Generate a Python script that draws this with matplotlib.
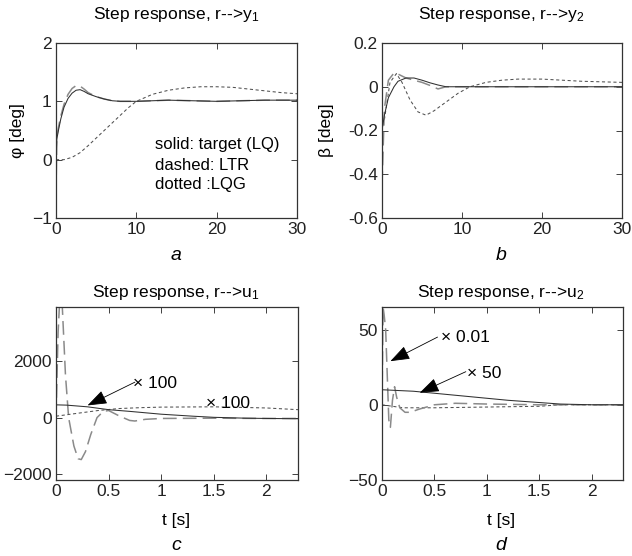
import matplotlib
matplotlib.use('Agg')
import matplotlib.pyplot as plt

plt.rcParams['font.family'] = ['Liberation Sans', 'DejaVu Sans']
plt.rcParams['mathtext.fontset'] = 'custom'
plt.rcParams['mathtext.rm'] = 'Liberation Sans'
plt.rcParams['mathtext.it'] = 'Liberation Sans:italic'
plt.rcParams['font.size'] = 12.5

# --- panel a: r --> y1 (phi)
t_a = [0, 0.1, 0.3, 0.6, 1.0, 1.5, 2.0, 2.5, 3.0, 3.5, 4, 5, 6, 7, 8, 10, 14, 20, 26, 30]
a_solid = [0, 0.35, 0.5, 0.7, 0.9, 1.05, 1.14, 1.19, 1.2, 1.17, 1.13, 1.08, 1.04, 1.01, 1.0, 1.0, 1.02, 1.0, 1.02, 1.02]
a_dashed = [-0.6, 0.4, 0.55, 0.75, 0.95, 1.12, 1.22, 1.27, 1.26, 1.21, 1.15, 1.08, 1.04, 1.01, 1.0, 1.0, 1.02, 1.0, 1.02, 1.02]
t_a_dot = [0, 1, 2, 3, 4, 5, 6, 7, 8, 9, 10, 12, 14, 16, 18, 20, 22, 24, 26, 28, 30]
a_dotted = [0, 0, 0.04, 0.12, 0.24, 0.37, 0.5, 0.63, 0.76, 0.89, 1.0, 1.12, 1.19, 1.23, 1.25, 1.25, 1.24, 1.21, 1.18, 1.15, 1.13]

# --- panel b: r --> y2 (beta)
t_b = [0, 0.3, 0.8, 1.5, 2.0, 3.0, 4.0, 5.0, 6.0, 7.0, 8.0, 10, 20, 30]
b_solid = [-0.2, -0.13, -0.05, 0.0, 0.025, 0.04, 0.04, 0.03, 0.018, 0.008, 0.0, 0.0, 0.0, 0.0]
b_dashed = [-0.45, -0.1, 0.03, 0.063, 0.058, 0.04, 0.03, 0.02, 0.006, -0.01, 0.0, 0.0, 0.0, 0.0]
t_b_dot = [0.3, 1.0, 1.8, 2.5, 3.5, 4.5, 5.5, 6.5, 8, 9.5, 11, 13, 15, 17, 20, 25, 30]
b_dotted = [-0.15, 0.02, 0.06, 0.02, -0.06, -0.115, -0.13, -0.11, -0.07, -0.03, 0.0, 0.02, 0.03, 0.035, 0.035, 0.025, 0.02]

# --- panel c: r --> u1
t_c = [0, 0.1, 0.3, 0.5, 0.7, 1.0, 1.3, 1.5, 1.8, 2.0, 2.3]
c_solid = [450, 440, 380, 280, 220, 120, 50, 10, -20, -30, -40]
t_c_dash = [0, 0.02, 0.04, 0.06, 0.09, 0.12, 0.17, 0.21, 0.24, 0.28, 0.33, 0.39, 0.45, 0.5, 0.6, 0.7, 0.75, 0.85, 1.0, 1.5, 2.0, 2.3]
c_dashed = [0, 3000, 4500, 3900, 1500, 0, -1000, -1450, -1480, -1200, -600, 0, 220, 250, 60, -100, -120, -60, -30, -20, -30, -30]
t_c_dot = [0, 0.2, 0.4, 0.6, 0.8, 1.0, 1.5, 2.0, 2.3]
c_dotted = [50, 150, 250, 320, 350, 370, 380, 340, 280]

# --- panel d: r --> u2
t_d = [0, 0.3, 0.6, 0.9, 1.2, 1.5, 1.7, 2.0, 2.3]
d_solid = [10, 9, 7, 5, 3, 1.5, 0.5, 0, 0]
t_d_dash = [0, 0.01, 0.02, 0.035, 0.05, 0.065, 0.08, 0.1, 0.12, 0.14, 0.17, 0.22, 0.27, 0.35, 0.5, 0.7, 1.0, 1.5, 2.0, 2.3]
d_dashed = [0, 65, 60, 50, 20, -10, -15, 3, 12, 5, -2, -5, -5, -3, 0, 1, 0.5, 0, 0, 0]
t_d_dot = [0, 0.2, 0.5, 1.0, 1.5, 1.7, 2.3]
d_dotted = [0, -2, -2, -1.5, -1, 0, 0]

C_SOLID = '#303030'
C_DASH = '#8a8a8a'
C_DOT = '#505050'

fig = plt.figure(figsize=(6.32, 5.56), dpi=100)
W, H = 632, 556


def make_ax(l, t, r, b):
    ax = fig.add_axes([l / W, 1 - b / H, (r - l) / W, (b - t) / H])
    ax.tick_params(direction='in', top=True, right=True, length=4, width=0.6,
                   colors='#222222', labelsize=12.5, pad=3)
    for s in ax.spines.values():
        s.set_linewidth(0.9)
        s.set_color('#333333')
    return ax


def draw(ax, ts, ys, td, yd, tdot, ydot):
    ax.plot(tdot, ydot, color=C_DOT, lw=0.75, ls=(0, (3, 2.5)))
    ax.plot(td, yd, color=C_DASH, lw=1.1, ls=(0, (9, 4)))
    ax.plot(ts, ys, color=C_SOLID, lw=0.75)


arrow = dict(arrowstyle='-|>,head_length=1.1,head_width=0.4', color='black',
             lw=0.6, mutation_scale=11, shrinkA=0, shrinkB=0)

# panel a
ax = make_ax(56, 43, 297, 218)
draw(ax, t_a, a_solid, t_a, a_dashed, t_a_dot, a_dotted)
ax.set_xlim(0, 30); ax.set_ylim(-1, 2)
ax.set_xticks([0, 10, 20, 30]); ax.set_yticks([-1, 0, 1, 2])
ax.set_ylabel('\u03c6 [deg]')
ax.yaxis.set_label_coords(-0.13, 0.5)
ax.text(12.3, 0.26, 'solid: target (LQ)', va='center', fontsize=12)
ax.text(12.3, -0.1, 'dashed: LTR', va='center', fontsize=12)
ax.text(12.3, -0.43, 'dotted :LQG', va='center', fontsize=12)

# panel b
ax = make_ax(382, 43, 622, 218)
draw(ax, t_b, b_solid, t_b, b_dashed, t_b_dot, b_dotted)
ax.set_xlim(0, 30); ax.set_ylim(-0.6, 0.2)
ax.set_xticks([0, 10, 20, 30]); ax.set_yticks([-0.6, -0.4, -0.2, 0, 0.2])
ax.set_yticklabels(['-0.6', '-0.4', '-0.2', '0', '0.2'])
ax.set_ylabel('\u03b2 [deg]')
ax.yaxis.set_label_coords(-0.2, 0.5)

# panel c
ax = make_ax(56, 307, 298, 480)
draw(ax, t_c, c_solid, t_c_dash, c_dashed, t_c_dot, c_dotted)
ax.set_xlim(0, 2.3); ax.set_ylim(-2200, 3900)
ax.set_xticks([0, 0.5, 1, 1.5, 2]); ax.set_xticklabels(['0', '0.5', '1', '1.5', '2'])
ax.set_yticks([-2000, 0, 2000])
ax.annotate('', xy=(0.3, 430), xytext=(0.75, 1250), arrowprops=arrow)
ax.text(0.73, 1200, '\u00d7 100', va='center')
ax.text(1.43, 480, '\u00d7 100', va='center')

# panel d
ax = make_ax(382, 307, 623, 480)
draw(ax, t_d, d_solid, t_d_dash, d_dashed, t_d_dot, d_dotted)
ax.set_xlim(0, 2.3); ax.set_ylim(-50, 65)
ax.set_xticks([0, 0.5, 1, 1.5, 2]); ax.set_xticklabels(['0', '0.5', '1', '1.5', '2'])
ax.set_yticks([-50, 0, 50])
ax.annotate('', xy=(0.08, 29), xytext=(0.53, 45), arrowprops=arrow)
ax.text(0.56, 45, '\u00d7 0.01', va='center')
ax.annotate('', xy=(0.36, 8), xytext=(0.8, 22), arrowprops=arrow)
ax.text(0.81, 21, '\u00d7 50', va='center')

# titles and panel labels
titles = [(176, 15, 'Step response, r-->y$_1$'), (501, 15, 'Step response, r-->y$_2$'),
          (176, 292, 'Step response, r-->u$_1$'), (501, 292, 'Step response, r-->u$_2$')]
for x, y, s in titles:
    fig.text(x / W, 1 - y / H, s, ha='center', va='center', fontsize=12.5)
for x, y, s in [(176, 255, 'a'), (501, 255, 'b'), (176, 545, 'c'), (501, 545, 'd')]:
    fig.text(x / W, 1 - y / H, s, ha='center', va='center', fontsize=14, style='italic')
for x in (176, 501):
    fig.text(x / W, 1 - 521 / H, 't [s]', ha='center', va='center', fontsize=12.5)

fig.savefig('out.png', dpi=100)
